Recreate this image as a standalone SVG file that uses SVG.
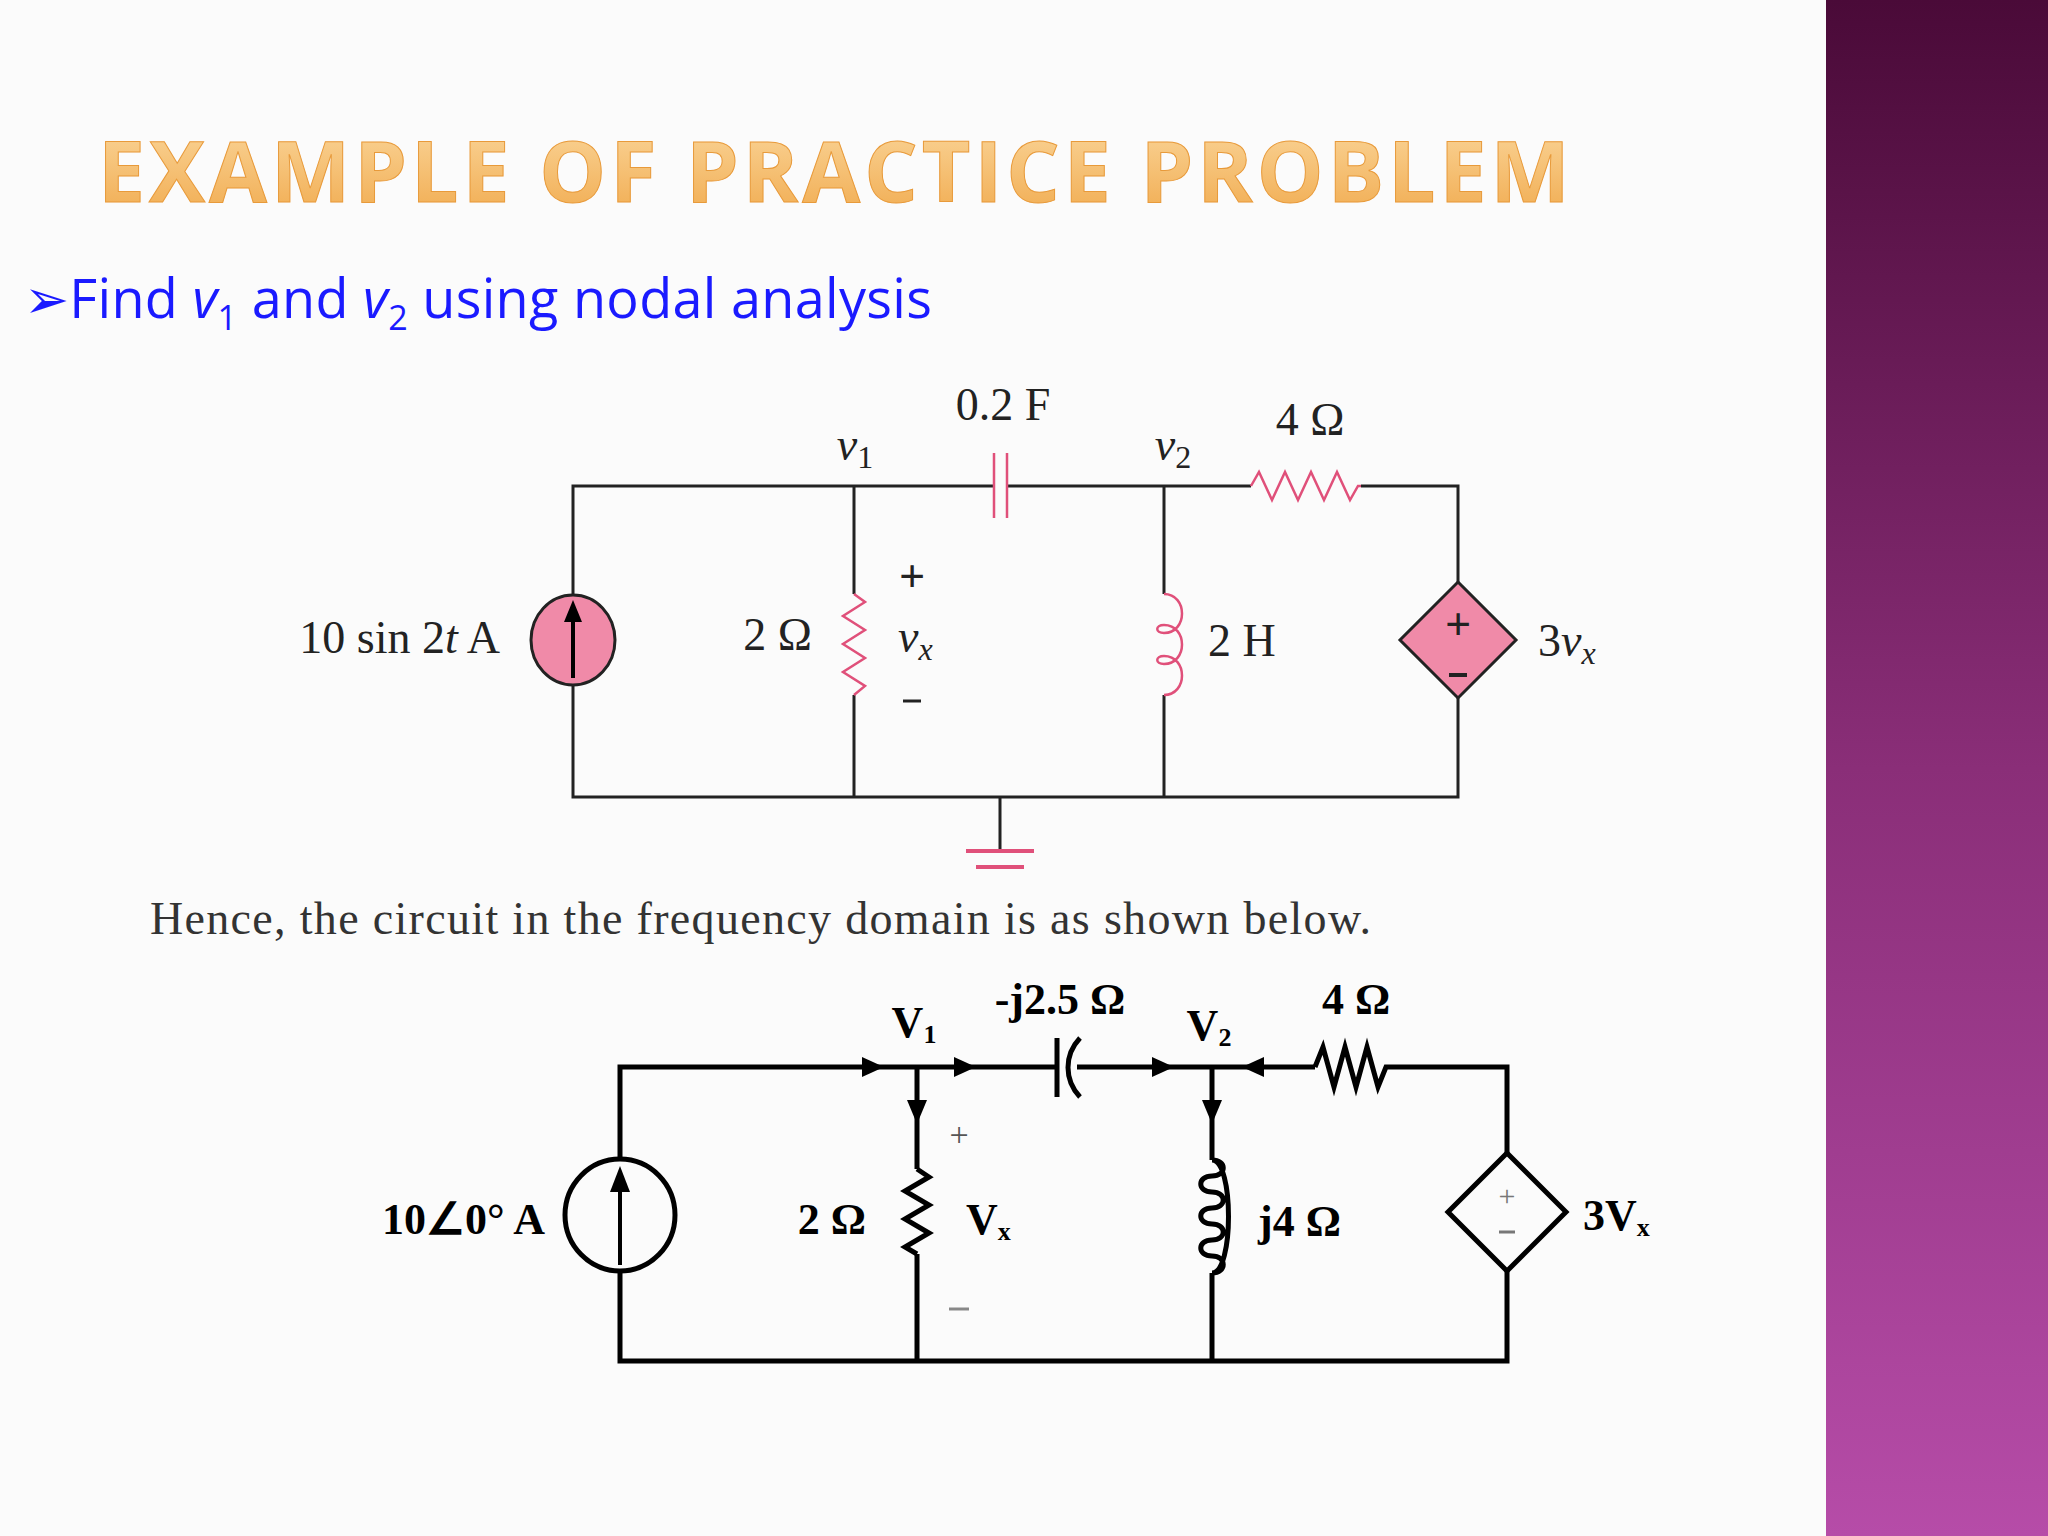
<svg xmlns="http://www.w3.org/2000/svg" width="2048" height="1536" viewBox="0 0 2048 1536">
<defs>
<linearGradient id="band" x1="0" y1="0" x2="0" y2="1"><stop offset="0" stop-color="#4a0a38"/><stop offset="0.5" stop-color="#8a2e78"/><stop offset="1" stop-color="#b64ca8"/></linearGradient>
<linearGradient id="ttl" x1="0" y1="0" x2="0" y2="1"><stop offset="0" stop-color="#fbd9a0"/><stop offset="1" stop-color="#f0a84a"/></linearGradient>
</defs>
<style>
.w1{stroke:#222;stroke-width:3;fill:none}
.pk{stroke:#e0507a;stroke-width:2.5;fill:none}
.w2{stroke:#000;stroke-width:5;fill:none}
.t1{font-family:"Liberation Serif",serif;font-size:46px;fill:#222}
.t2{font-family:"Liberation Serif",serif;font-size:44px;font-weight:bold;fill:#000}
.arr{fill:#000}
</style>
<rect width="2048" height="1536" fill="#fbfbfb"/>
<rect x="1826" y="0" width="222" height="1536" fill="url(#band)"/>
<text x="98" y="202" font-family="Open Sans, sans-serif" font-size="84" font-weight="bold" letter-spacing="4" fill="url(#ttl)" stroke="#e89a3a" stroke-width="1">EXAMPLE OF PRACTICE PROBLEM</text>
<text x="24" y="318" font-family="Open Sans, sans-serif" font-size="54" fill="#1a1aff" textLength="908" lengthAdjust="spacing">➢Find <tspan font-style="italic">v</tspan><tspan font-size="34" dy="12">1</tspan><tspan dy="-12"> and </tspan><tspan font-style="italic">v</tspan><tspan font-size="34" dy="12">2</tspan><tspan dy="-12"> using nodal analysis</tspan></text>

<g id="circuit1">
<g id="c1-wires" class="w1">
<path d="M573,595 V486 H994 M1007,486 H1251 M1361,486 H1458 V582 M1458,698 V797 H573 V685"/>
<path d="M854,486 V594 M854,695 V797 M1164,486 V594 M1164,695 V797 M1000,797 V850"/>
</g>
<g id="c1-source"><ellipse cx="573" cy="640" rx="42" ry="45" fill="#f08aa8" stroke="#222" stroke-width="3"/><path d="M573,678 V615" stroke="#000" stroke-width="4"/><path d="M564,622 L573,600 L582,622 z" fill="#000"/></g>
<g id="c1-R2"><path class="pk" d="M854,594 l11,8 l-22,14 l22,14 l-22,14 l22,14 l-22,14 l22,14 l-11,9"/></g>
<g id="c1-L"><path class="pk" d="M1164,594 c24,0 24,39 0,39 c-9,0 -9,-8 0,-8 c24,0 24,39 0,39 c-9,0 -9,-8 0,-8 c24,0 24,39 0,39"/></g>
<g id="c1-C"><path class="pk" d="M994,453 V518 M1007,453 V518"/></g>
<g id="c1-R4"><path class="pk" d="M1251,486 l8,-14 l13,28 l13,-28 l13,28 l13,-28 l13,28 l13,-28 l13,28 l8,-14 h3"/></g>
<g id="c1-dep"><path d="M1458,582 L1516,640 L1458,698 L1400,640 z" fill="#f08aa8" stroke="#222" stroke-width="3"/><text x="1458" y="640" text-anchor="middle" class="t1" font-size="36" font-weight="bold">+</text><path d="M1449,675 h18" stroke="#222" stroke-width="4"/></g>
<g id="c1-gnd" stroke="#e0507a" stroke-width="4"><path d="M966,851 H1034 M976,867 H1024"/></g>
<g id="c1-labels" class="t1">
<text x="1003" y="420" text-anchor="middle">0.2 F</text>
<text x="855" y="460" text-anchor="middle" font-style="italic">v<tspan font-size="32" dy="8" font-style="normal">1</tspan></text>
<text x="1173" y="460" text-anchor="middle" font-style="italic">v<tspan font-size="32" dy="8" font-style="normal">2</tspan></text>
<text x="1310" y="435" text-anchor="middle">4 Ω</text>
<text x="500" y="653" text-anchor="end">10 sin 2<tspan font-style="italic">t</tspan> A</text>
<text x="812" y="650" text-anchor="end">2 Ω</text>
<text x="912" y="592" text-anchor="middle" font-weight="bold">+</text>
<text x="898" y="652" font-style="italic">v<tspan font-size="32" dy="8">x</tspan></text>
<path d="M903,701 h18" stroke="#222" stroke-width="3"/>
<text x="1208" y="656">2 H</text>
<text x="1538" y="656">3<tspan font-style="italic">v</tspan><tspan font-size="32" dy="8" font-style="italic">x</tspan></text>
</g>
</g>

<text x="150" y="934" font-family="Liberation Serif, serif" font-size="46" fill="#333" textLength="1221" lengthAdjust="spacing">Hence, the circuit in the frequency domain is as shown below.</text>

<g id="circuit2">
<g id="c2-wires" class="w2">
<path d="M620,1159 V1067 H1057 M1077,1067 H1315 M1397,1067 H1507 V1153 M1507,1271 V1361 H620 V1271"/>
<path d="M917,1067 V1169 M917,1254 V1361 M1212,1067 V1160 M1212,1273 V1361"/>
</g>
<g id="c2-arrows" class="arr">
<path d="M862,1057 L884,1067 L862,1077 z"/>
<path d="M954,1057 L976,1067 L954,1077 z"/>
<path d="M1152,1057 L1174,1067 L1152,1077 z"/>
<path d="M1264,1057 L1242,1067 L1264,1077 z"/>
<path d="M907,1100 L917,1124 L927,1100 z"/>
<path d="M1202,1100 L1212,1124 L1222,1100 z"/>
</g>
<g id="c2-source"><ellipse cx="620" cy="1215" rx="55" ry="56" fill="none" stroke="#000" stroke-width="5"/><path d="M620,1265 V1185" stroke="#000" stroke-width="4"/><path d="M610,1192 L620,1166 L630,1192 z" fill="#000"/></g>
<g id="c2-R2"><path class="w2" d="M917,1169 l12,8 l-24,14 l24,14 l-24,14 l24,14 l-24,14 l12,7" stroke-width="4"/></g>
<g id="c2-L"><path class="w2" stroke-width="4" d="M1212,1160 c15,0 15,16 0,16 c-15,0 -15,16 0,16 c15,0 15,16 0,16 c-15,0 -15,16 0,16 c15,0 15,16 0,16 c-15,0 -15,16 0,16 c15,0 15,17 0,17 M1212,1160 c22,0 22,113 0,113"/></g>
<g id="c2-C"><path class="w2" stroke-width="4" d="M1057,1038 V1097 M1080,1038 C1064,1055 1064,1080 1080,1097"/></g>
<g id="c2-R4"><path class="w2" stroke-width="4" d="M1315,1067 l8,-20 l11,40 l11,-40 l11,40 l11,-40 l11,40 l8,-20 h11"/></g>
<g id="c2-dep"><path d="M1507,1153 L1566,1212 L1507,1271 L1448,1212 z" fill="none" stroke="#000" stroke-width="5"/><text x="1507" y="1206" text-anchor="middle" font-family="Liberation Serif, serif" font-size="30" fill="#777">+</text><path d="M1499,1232 h16" stroke="#777" stroke-width="3"/></g>
<g id="c2-labels" class="t2">
<text x="914" y="1037" text-anchor="middle">V<tspan font-size="26" dy="6">1</tspan></text>
<text x="1060" y="1014" text-anchor="middle">-j2.5 Ω</text>
<text x="1209" y="1040" text-anchor="middle">V<tspan font-size="26" dy="6">2</tspan></text>
<text x="1356" y="1014" text-anchor="middle">4 Ω</text>
<text x="545" y="1234" text-anchor="end">10∠0° A</text>
<text x="866" y="1234" text-anchor="end">2 Ω</text>
<text x="966" y="1234">V<tspan font-size="26" dy="6">x</tspan></text>
<text x="959" y="1146" text-anchor="middle" font-weight="normal" font-size="34" fill="#555">+</text>
<path d="M949,1309 h20" stroke="#888" stroke-width="3"/>
<text x="1258" y="1236">j4 Ω</text>
<text x="1583" y="1230">3V<tspan font-size="26" dy="6">x</tspan></text>
</g>
</g>
</svg>
